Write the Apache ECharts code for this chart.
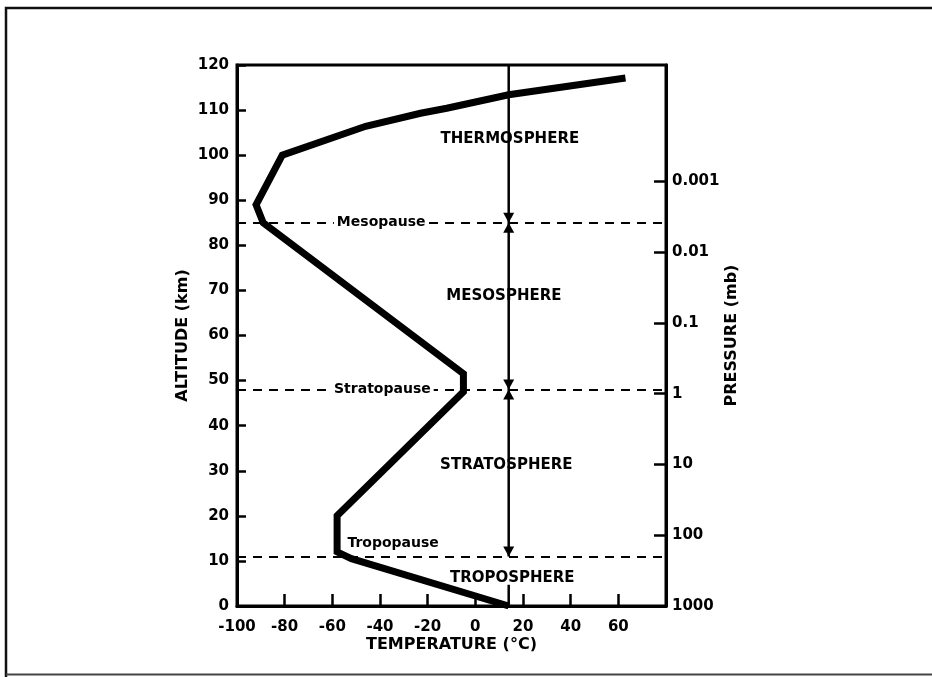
<!DOCTYPE html>
<html>
<head>
<meta charset="utf-8">
<script src="https://cdn.jsdelivr.net/npm/echarts@6/dist/echarts.min.js"></script>
<style>
  html, body { margin: 0; padding: 0; background: #fff; }
  #chart { width: 932px; height: 677px; }
</style>
</head>
<body>
<div id="chart"></div>
<script>
// Mean vertical temperature profile of the atmosphere
const profileTemp = [14, -52, -58, -58, -5, -5, -89, -92, -81, -46, -23, -12, 14, 63];
const profileAlt  = [0, 10.5, 12, 20, 47.5, 51.5, 85, 89, 100, 106.4, 109.3, 110.4, 113.4, 117.1];

// Boundaries between layers (km) and where their names are written
const pauseNames     = ['Tropopause', 'Stratopause', 'Mesopause'];
const pauseAlt       = [11, 48, 85];
const pauseLabelTemp = [-34.5, -39, -39.5];
const pauseLabelAlt  = [14, 48, 85];

// Layer names
const layerNames = ['TROPOSPHERE', 'STRATOSPHERE', 'MESOSPHERE', 'THERMOSPHERE'];
const layerTemp  = [15.5, 13, 12, 14.5];
const layerAlt   = [6.1, 31.3, 68.7, 103.6];

// Surface temperature reference line
const refTemp = 14;
const refTopAlt = 120;
const refLowerAlt = 4.7;

// Axis ticks
const tempTicks = [-100, -80, -60, -40, -20, 0, 20, 40, 60];
const pressureTicks  = [1000, 100, 10, 1, 0.1, 0.01, 0.001];
const pressureLabels = ['1000', '100', '10', '1', '0.1', '0.01', '0.001'];

const FONT = '"DejaVu Sans", sans-serif';
const INK = '#000';

// pressure axis runs in -log10(p) so that low pressure sits at the top
const toP = p => -Math.log10(p);
const pressurePos = pressureTicks.map(toP);

const chart = echarts.init(document.getElementById('chart'), null, { renderer: 'canvas' });

const pairs = (xs, ys) => xs.map((x, i) => [x, ys[i]]);

const option = {
  backgroundColor: '#fff',
  animation: false,
  textStyle: { fontFamily: FONT, color: INK },
  graphic: [
    { type: 'polyline', shape: { points: [[6, 677], [6, 8], [932, 8]] },
      style: { stroke: '#111', lineWidth: 2.5, fill: null } },
    { type: 'line', shape: { x1: 6, y1: 674.5, x2: 932, y2: 674.5 },
      style: { stroke: '#444', lineWidth: 2 } }
  ],
  grid: {
    left: 237, right: 266, top: 65, bottom: 71,
    show: true, borderColor: INK, borderWidth: 3, backgroundColor: 'transparent'
  },
  xAxis: {
    type: 'value', min: -100, max: 80,
    name: 'TEMPERATURE (°C)', nameLocation: 'middle', nameGap: 31, nameMoveOverlap: false,
    nameTextStyle: { fontFamily: FONT, fontWeight: 'bold', fontSize: 16, color: INK },
    axisLine: { show: true, onZero: false, lineStyle: { color: INK, width: 3 } },
    axisTick: { show: true, inside: true, length: 12, customValues: tempTicks,
                lineStyle: { color: INK, width: 2.5 } },
    axisLabel: { show: true, customValues: tempTicks, margin: 14,
                 fontFamily: FONT, fontWeight: 'bold', fontSize: 15, color: INK },
    splitLine: { show: false }
  },
  yAxis: [
    {
      type: 'value', min: 0, max: 120, interval: 10, position: 'left',
      name: 'ALTITUDE (km)', nameLocation: 'middle', nameGap: 46, nameRotate: 90,
      nameTextStyle: { fontFamily: FONT, fontWeight: 'bold', fontSize: 16, color: INK },
      axisLine: { show: true, onZero: false, lineStyle: { color: INK, width: 3 } },
      axisTick: { show: true, inside: true, length: 9, lineStyle: { color: INK, width: 2.5 } },
      axisLabel: { margin: 8, fontFamily: FONT, fontWeight: 'bold', fontSize: 15, color: INK },
      splitLine: { show: false }
    },
    {
      type: 'value', min: -3, max: 4.645, position: 'right', alignTicks: false,
      name: 'PRESSURE (mb)', nameLocation: 'middle', nameGap: 47, nameRotate: 90,
      nameTextStyle: { fontFamily: FONT, fontWeight: 'bold', fontSize: 16, color: INK },
      axisLine: { show: true, onZero: false, lineStyle: { color: INK, width: 3 } },
      axisTick: { show: true, inside: true, length: 12, customValues: pressurePos,
                  lineStyle: { color: INK, width: 2.5 } },
      axisLabel: {
        customValues: pressurePos, margin: 6,
        fontFamily: FONT, fontWeight: 'bold', fontSize: 15, color: INK,
        formatter: v => {
          const i = pressurePos.findIndex(p => Math.abs(p - v) < 1e-6);
          return i >= 0 ? pressureLabels[i] : '';
        }
      },
      splitLine: { show: false }
    }
  ],
  series: [
    {
      // layer boundaries
      type: 'line', data: [], yAxisIndex: 0,
      markLine: {
        silent: true, symbol: ['none', 'none'],
        label: { show: false },
        lineStyle: { color: INK, width: 2, type: [9, 7] },
        data: pauseAlt.map(a => ({ yAxis: a }))
      }
    },
    {
      // vertical reference line, upper part
      type: 'line', showSymbol: false, z: 3,
      data: [[refTemp, refTopAlt], [refTemp, pauseAlt[0]]],
      lineStyle: { color: INK, width: 2.5 }
    },
    {
      // vertical reference line, near the surface
      type: 'line', showSymbol: false, z: 3,
      data: [[refTemp, refLowerAlt], [refTemp, 0]],
      lineStyle: { color: INK, width: 2.5 }
    },
    {
      // arrowheads pointing down onto each boundary
      type: 'scatter', symbol: 'triangle', symbolSize: [11, 10], symbolRotate: 180,
      symbolOffset: [0, '-50%'], z: 4,
      itemStyle: { color: INK, opacity: 1 },
      data: pauseAlt.map(a => [refTemp, a])
    },
    {
      // arrowheads pointing up onto the upper boundaries
      type: 'scatter', symbol: 'triangle', symbolSize: [11, 10],
      symbolOffset: [0, '50%'], z: 4,
      itemStyle: { color: INK, opacity: 1 },
      data: pauseAlt.slice(1).map(a => [refTemp, a])
    },
    {
      // temperature profile
      type: 'line', showSymbol: false, z: 5,
      data: pairs(profileTemp, profileAlt),
      lineStyle: { color: INK, width: 7, join: 'miter', cap: 'butt' }
    },
    {
      // boundary names
      type: 'scatter', symbolSize: 0, z: 6,
      itemStyle: { opacity: 1 },
      data: pauseNames.map((n, i) => ({ name: n, value: [pauseLabelTemp[i], pauseLabelAlt[i]] })),
      label: {
        show: true, position: 'inside', formatter: '{b}',
        fontFamily: FONT, fontWeight: 'bold', fontSize: 14, color: INK,
        backgroundColor: '#fff', padding: [1, 3]
      }
    },
    {
      // layer names
      type: 'scatter', symbolSize: 0, z: 6,
      itemStyle: { opacity: 1 },
      data: layerNames.map((n, i) => ({ name: n, value: [layerTemp[i], layerAlt[i]] })),
      label: {
        show: true, position: 'inside', formatter: '{b}',
        fontFamily: FONT, fontWeight: 'bold', fontSize: 15, color: INK
      }
    }
  ]
};

chart.setOption(option);
</script>
</body>
</html>
